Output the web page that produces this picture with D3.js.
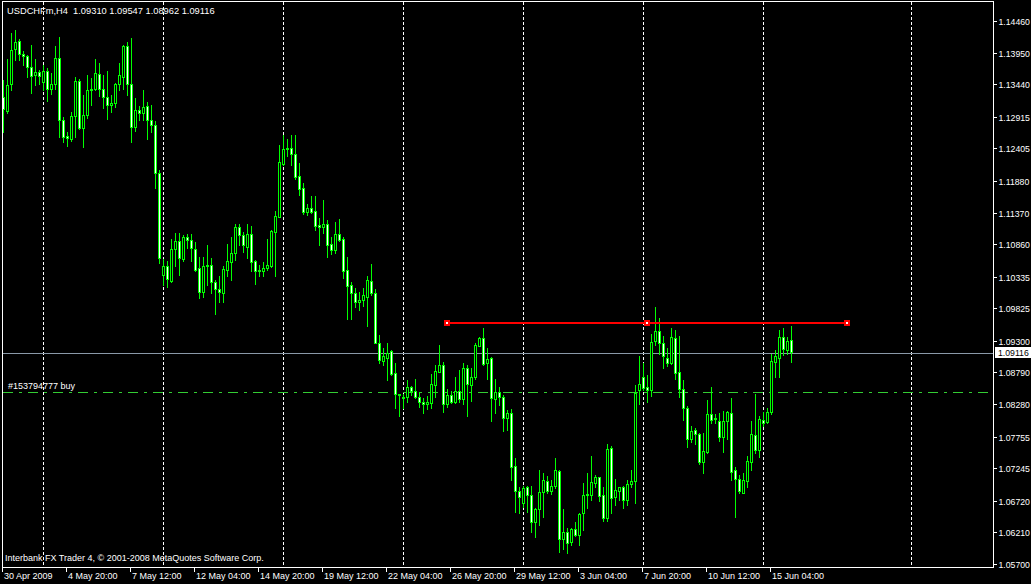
<!DOCTYPE html>
<html><head><meta charset="utf-8">
<script src="https://cdn.jsdelivr.net/npm/d3@7"></script>
<style>html,body{margin:0;padding:0;background:#000;overflow:hidden}</style>
</head><body><svg id="c" width="1031" height="584"></svg>
<script>
const titleText = "USDCHFm,H4  1.09310 1.09547 1.08962 1.09116";
const footerText = "Interbank FX Trader 4, \u00a9 2001-2008 MetaQuotes Software Corp.";
const orderText = "#153794777 buy";

const open = [1.1324,1.1301,1.1344,1.1401,1.1413,1.1393,1.1390,1.1371,1.1359,1.1364,
1.1348,1.1365,1.1336,1.1344,1.1386,1.1286,1.1260,1.1256,1.1292,1.1350,
1.1274,1.1294,1.1334,1.1337,1.1360,1.1337,1.1324,1.1310,1.1313,1.1344,
1.1356,1.1406,1.1344,1.1275,1.1302,1.1297,1.1309,1.1287,1.1279,1.1200,
1.1037,1.1051,1.1027,1.1078,1.1091,1.1062,1.1098,1.1092,1.1078,1.1047,
1.1009,1.1052,1.1052,1.1025,1.1013,1.1008,1.1045,1.1058,1.1071,1.1114,
1.1100,1.1082,1.1102,1.1059,1.1042,1.1043,1.1047,1.1051,1.1106,1.1130,
1.1215,1.1240,1.1241,1.1231,1.1196,1.1176,1.1138,1.1145,1.1139,1.1117,
1.1114,1.1118,1.1086,1.1077,1.1102,1.1094,1.1044,1.1020,1.1008,1.0993,
1.0996,1.1001,1.1027,1.1008,1.0926,1.0898,1.0903,1.0914,1.0878,1.0845,
1.0840,1.0839,1.0855,1.0849,1.0839,1.0832,1.0828,1.0830,1.0859,1.0880,
1.0891,1.0828,1.0842,1.0832,1.0849,1.0836,1.0886,1.0858,1.0871,1.0922,
1.0934,1.0894,1.0902,1.0836,1.0848,1.0840,1.0805,1.0813,1.0728,1.0688,
1.0669,1.0694,1.0681,1.0638,1.0659,1.0686,1.0704,1.0688,1.0696,1.0720,
1.0610,1.0622,1.0606,1.0626,1.0617,1.0652,1.0681,1.0682,1.0701,1.0710,
1.0681,1.0645,1.0757,1.0678,1.0687,1.0694,1.0674,1.0699,1.0704,1.0850,
1.0871,1.0855,1.0851,1.0930,1.0946,1.0926,1.0903,1.0894,1.0934,1.0879,
1.0853,1.0821,1.0771,1.0786,1.0779,1.0734,1.0751,1.0812,1.0804,1.0801,
1.0775,1.0801,1.0813,1.0721,1.0707,1.0685,1.0704,1.0735,1.0778,1.0754,
1.0803,1.0799,1.0816,1.0896,1.0903,1.0936,1.0916,1.09310];

const high = [1.1351,1.1384,1.1426,1.1432,1.1417,1.1397,1.1391,1.1407,1.1384,1.1367,
1.1375,1.1370,1.1362,1.1406,1.1420,1.1291,1.1267,1.1299,1.1355,1.1352,
1.1326,1.1359,1.1354,1.1384,1.1378,1.1359,1.1365,1.1327,1.1346,1.1379,
1.1407,1.1412,1.1419,1.1321,1.1309,1.1335,1.1315,1.1311,1.1284,1.1206,
1.1062,1.1059,1.1095,1.1104,1.1104,1.1101,1.1102,1.1102,1.1090,1.1066,
1.1066,1.1085,1.1064,1.1028,1.1035,1.1050,1.1086,1.1098,1.1119,1.1119,
1.1106,1.1119,1.1115,1.1060,1.1052,1.1057,1.1095,1.1109,1.1139,1.1246,
1.1262,1.1256,1.1262,1.1262,1.1217,1.1184,1.1151,1.1163,1.1163,1.1128,
1.1157,1.1125,1.1098,1.1121,1.1126,1.1097,1.1066,1.1025,1.1016,1.1009,
1.1016,1.1035,1.1054,1.1014,1.0939,1.0918,1.0926,1.0915,1.0894,1.0845,
1.0844,1.0867,1.0857,1.0868,1.0847,1.0837,1.0841,1.0876,1.0891,1.0923,
1.0896,1.0852,1.0849,1.0871,1.0883,1.0894,1.0891,1.0887,1.0927,1.0937,
1.0950,1.0918,1.0904,1.0868,1.0855,1.0843,1.0818,1.0820,1.0741,1.0695,
1.0696,1.0696,1.0696,1.0660,1.0722,1.0716,1.0712,1.0706,1.0741,1.0722,
1.0658,1.0628,1.0628,1.0637,1.0652,1.0700,1.0717,1.0744,1.0714,1.0711,
1.0694,1.0764,1.0760,1.0707,1.0695,1.0696,1.0706,1.0722,1.0859,1.0906,
1.0895,1.0875,1.0941,1.0985,1.0967,1.0938,1.0918,1.0951,1.0948,1.0938,
1.0867,1.0825,1.0793,1.0790,1.0781,1.0781,1.0835,1.0856,1.0812,1.0814,
1.0817,1.0817,1.0838,1.0726,1.0714,1.0716,1.0744,1.0800,1.0844,1.0809,
1.0816,1.0821,1.0909,1.0916,1.0948,1.0950,1.0937,1.09547];

const low = [1.1267,1.1298,1.1335,1.1383,1.1383,1.1375,1.1355,1.1330,1.1342,1.1345,
1.1335,1.1317,1.1328,1.1337,1.1259,1.1250,1.1245,1.1253,1.1259,1.1271,
1.1242,1.1289,1.1311,1.1335,1.1325,1.1305,1.1288,1.1300,1.1307,1.1335,
1.1336,1.1327,1.1250,1.1269,1.1286,1.1286,1.1255,1.1267,1.1176,1.1055,
1.1020,1.1017,1.1025,1.1050,1.1036,1.1059,1.1079,1.1059,1.1043,1.0999,
1.1001,1.1020,1.1007,1.0974,1.0993,1.0993,1.1034,1.1028,1.1060,1.1085,
1.1074,1.1063,1.1042,1.1022,1.1034,1.1034,1.1044,1.1049,1.1035,1.1129,
1.1214,1.1228,1.1213,1.1191,1.1165,1.1135,1.1133,1.1137,1.1109,1.1085,
1.1104,1.1066,1.1070,1.1072,1.1091,1.1032,1.0966,1.0966,1.0985,1.0980,
1.0986,1.0954,1.1004,1.0926,1.0894,1.0891,1.0867,1.0875,1.0821,1.0808,
1.0821,1.0832,1.0843,1.0837,1.0824,1.0814,1.0820,1.0821,1.0840,1.0879,
1.0816,1.0824,1.0829,1.0829,1.0832,1.0828,1.0808,1.0833,1.0868,1.0921,
1.0891,1.0868,1.0800,1.0813,1.0827,1.0785,1.0786,1.0706,1.0654,1.0652,
1.0662,1.0654,1.0622,1.0614,1.0633,1.0646,1.0684,1.0683,1.0692,1.0590,
1.0595,1.0587,1.0601,1.0615,1.0600,1.0625,1.0660,1.0674,1.0695,1.0671,
1.0640,1.0640,1.0652,1.0665,1.0673,1.0660,1.0665,1.0694,1.0668,1.0828,
1.0851,1.0832,1.0841,1.0923,1.0909,1.0886,1.0889,1.0893,1.0868,1.0839,
1.0802,1.0758,1.0767,1.0764,1.0731,1.0716,1.0749,1.0797,1.0797,1.0769,
1.0750,1.0772,1.0706,1.0646,1.0684,1.0684,1.0695,1.0721,1.0749,1.0743,
1.0793,1.0797,1.0812,1.0871,1.0871,1.0907,1.0908,1.08962];

const close = [1.1304,1.1342,1.1400,1.1412,1.1392,1.1390,1.1371,1.1358,1.1364,1.1358,
1.1365,1.1336,1.1344,1.1386,1.1286,1.1259,1.1257,1.1292,1.1350,1.1274,
1.1294,1.1335,1.1337,1.1362,1.1337,1.1324,1.1310,1.1314,1.1344,1.1359,
1.1406,1.1344,1.1275,1.1302,1.1297,1.1308,1.1287,1.1279,1.1200,1.1063,
1.1051,1.1029,1.1078,1.1091,1.1064,1.1098,1.1092,1.1079,1.1044,1.1009,
1.1051,1.1050,1.1025,1.1013,1.1009,1.1046,1.1059,1.1071,1.1113,1.1100,
1.1084,1.1102,1.1058,1.1042,1.1044,1.1048,1.1052,1.1107,1.1131,1.1219,
1.1240,1.1241,1.1231,1.1195,1.1175,1.1138,1.1145,1.1138,1.1115,1.1114,
1.1118,1.1085,1.1077,1.1102,1.1093,1.1043,1.1019,1.1007,1.0992,1.0996,
1.1004,1.1028,1.1007,1.0927,1.0899,1.0906,1.0910,1.0876,1.0844,1.0843,
1.0837,1.0855,1.0849,1.0840,1.0832,1.0828,1.0831,1.0860,1.0881,1.0891,
1.0828,1.0843,1.0832,1.0849,1.0836,1.0887,1.0860,1.0871,1.0924,1.0934,
1.0892,1.0900,1.0837,1.0847,1.0839,1.0805,1.0813,1.0726,1.0688,1.0678,
1.0692,1.0681,1.0638,1.0658,1.0686,1.0706,1.0688,1.0696,1.0722,1.0610,
1.0621,1.0604,1.0626,1.0617,1.0650,1.0681,1.0683,1.0702,1.0710,1.0680,
1.0645,1.0755,1.0676,1.0689,1.0694,1.0674,1.0699,1.0704,1.0846,1.0860,
1.0854,1.0850,1.0928,1.0946,1.0926,1.0905,1.0894,1.0936,1.0878,1.0853,
1.0821,1.0771,1.0785,1.0780,1.0735,1.0752,1.0812,1.0803,1.0806,1.0775,
1.0801,1.0815,1.0719,1.0707,1.0687,1.0706,1.0736,1.0779,1.0754,1.0804,
1.0797,1.0816,1.0897,1.0906,1.0936,1.0917,1.0930,1.09116];

const priceTicks = [1.14460,1.13950,1.13440,1.12915,1.12405,1.11880,1.11370,1.10860,1.10335,
1.09825,1.09300,1.08790,1.08280,1.07755,1.07245,1.06720,1.06210,1.05700];
const timeLabels = ["30 Apr 2009","4 May 20:00","7 May 12:00","12 May 04:00","14 May 20:00",
"19 May 12:00","22 May 04:00","26 May 20:00","29 May 12:00","3 Jun 04:00","7 Jun 20:00",
"10 Jun 12:00","15 Jun 04:00"];
const timeLabelBars = [0,16,32,48,64,80,96,112,128,144,160,176,192];
const gridBars = [10,40,70,100,130,160,190,227];
const bidPrice = 1.09116;
const orderPrice = 1.08470;
const trendPrice = 1.09593;
const trendBars = [111,161,211];

const W = 1031, H = 584;
const FONT = "'Liberation Sans', Arial, sans-serif";
const svg = d3.select("#c");
svg.append("rect").attr("width", W).attr("height", H).attr("fill", "#000");

const x = d3.scaleLinear().domain([0, 247]).range([3.5, 991.5]);
const y = d3.scaleLinear().domain([1.05700, 1.14460]).range([564, 21]);
const py = v => Math.round(y(v));

const bars = open.map((o, i) => ({i, o, h: high[i], l: low[i], c: close[i]}));

// vertical dashed grid
svg.append("g").selectAll("line").data(gridBars).join("line")
  .attr("x1", d => Math.floor(x(d)) + 0.5).attr("x2", d => Math.floor(x(d)) + 0.5)
  .attr("y1", 2).attr("y2", 567)
  .attr("stroke", "#fff").attr("stroke-width", 1).attr("stroke-dasharray", "3,2")
  .attr("shape-rendering", "crispEdges");

// bid line
svg.append("line").attr("x1", 2).attr("x2", 993)
  .attr("y1", py(bidPrice) + 1.5).attr("y2", py(bidPrice) + 1.5)
  .attr("stroke", "#8a99a8").attr("shape-rendering", "crispEdges");

// order line
svg.append("line").attr("x1", 3).attr("x2", 993)
  .attr("y1", py(orderPrice) + 0.5).attr("y2", py(orderPrice) + 0.5)
  .attr("stroke", "#33cc33").attr("stroke-dasharray", "10,6,3,6")
  .attr("shape-rendering", "crispEdges");
svg.append("text").attr("x", 8).attr("y", 389).text(orderText)
  .attr("fill", "#fff").attr("font-family", FONT).attr("font-size", 9);

// candles: wicks
svg.append("g").selectAll("line").data(bars).join("line")
  .attr("x1", d => x(d.i)).attr("x2", d => x(d.i))
  .attr("y1", d => py(d.h)).attr("y2", d => py(d.l) + 1)
  .attr("stroke", "#00ff00").attr("stroke-width", 1)
  .attr("shape-rendering", "crispEdges");
// candles: bodies
svg.append("g").selectAll("path").data(bars).join("path")
  .attr("d", d => {
    const t = py(Math.max(d.o, d.c)) + 0.5, b = py(Math.min(d.o, d.c)) + 0.5;
    const x0 = x(d.i) - 1;
    return `M${x0},${t}H${x0 + 2}V${b}H${x0}Z`;
  })
  .attr("fill", d => d.c < d.o ? "#fff" : "#000")
  .attr("stroke", "#00ff00").attr("stroke-width", 1)
  .attr("shape-rendering", "crispEdges");

// trend line
const ty = py(trendPrice);
svg.append("line")
  .attr("x1", x(trendBars[0])).attr("x2", x(trendBars[2]))
  .attr("y1", ty).attr("y2", ty)
  .attr("stroke", "#ff0000").attr("stroke-width", 2)
  .attr("shape-rendering", "crispEdges");
const sq = svg.append("g").selectAll("g").data(trendBars).join("g");
sq.append("rect").attr("x", d => Math.floor(x(d)) - 3).attr("y", ty - 3)
  .attr("width", 6).attr("height", 6).attr("fill", "#ff0000");
sq.append("rect").attr("x", d => Math.floor(x(d)) - 1).attr("y", ty - 1)
  .attr("width", 2).attr("height", 2).attr("fill", "#fff");

// frame
svg.append("rect").attr("x", 2.5).attr("y", 1.5).attr("width", 991).attr("height", 566)
  .attr("fill", "none").attr("stroke", "#fff").attr("shape-rendering", "crispEdges");

// price axis
const pa = svg.append("g");
pa.selectAll("line").data(priceTicks).join("line")
  .attr("x1", 994).attr("x2", 997)
  .attr("y1", d => py(d) + 0.5).attr("y2", d => py(d) + 0.5)
  .attr("stroke", "#fff").attr("shape-rendering", "crispEdges");
pa.selectAll("text").data(priceTicks).join("text")
  .attr("x", 998.5).attr("y", d => py(d) + 3.5)
  .text(d => d.toFixed(5))
  .attr("fill", "#fff").attr("font-family", FONT).attr("font-size", 8.7);

// current price box
svg.append("rect").attr("x", 995).attr("y", py(bidPrice) - 5).attr("width", 36).attr("height", 11)
  .attr("fill", "#fff");
svg.append("text").attr("x", 998).attr("y", py(bidPrice) + 4).text(bidPrice.toFixed(5))
  .attr("fill", "#000").attr("font-family", FONT).attr("font-size", 8.7);

// time axis
const ta = svg.append("g");
ta.selectAll("line").data(timeLabelBars).join("line")
  .attr("x1", d => Math.floor(x(d)) - 0.5).attr("x2", d => Math.floor(x(d)) - 0.5)
  .attr("y1", 567).attr("y2", 572)
  .attr("stroke", "#fff").attr("shape-rendering", "crispEdges");
ta.selectAll("text").data(timeLabelBars).join("text")
  .attr("x", d => Math.floor(x(d)) + 1).attr("y", 579)
  .text((d, k) => timeLabels[k])
  .attr("fill", "#fff").attr("font-family", FONT).attr("font-size", 9);

// title and footer
svg.append("text").attr("x", 7).attr("y", 14).text(titleText)
  .attr("xml:space", "preserve").style("white-space", "pre")
  .attr("fill", "#fff").attr("font-family", FONT).attr("font-size", 9.3);
svg.append("text").attr("x", 5).attr("y", 561).text(footerText)
  .attr("fill", "#fff").attr("font-family", FONT).attr("font-size", 9);
</script>
</body></html>
